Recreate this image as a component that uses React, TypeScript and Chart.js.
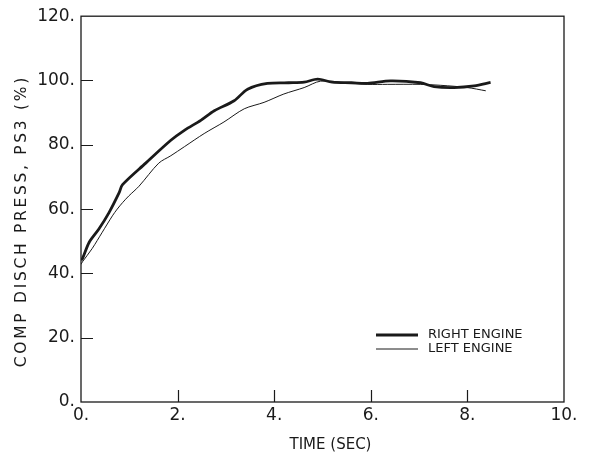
import React, { useEffect, useRef } from "react";
import { Chart, registerables } from "chart.js";

Chart.register(...registerables);

const rightTime = [0, 0.03, 0.17, 0.37, 0.58, 0.79, 0.86, 1.34, 1.86, 2.14, 2.48, 2.76, 3.17, 3.45, 3.86, 4.3, 4.62, 4.9, 5.2, 5.6, 5.93, 6.41, 7.03, 7.31, 7.72, 8.14, 8.48];
const rightValue = [44.2, 44.6, 49.7, 53.8, 58.9, 65.1, 67.6, 74.3, 81.4, 84.5, 87.6, 90.6, 93.7, 97.3, 99.1, 99.3, 99.5, 100.4, 99.5, 99.3, 99.1, 99.9, 99.3, 98.1, 97.8, 98.3, 99.4];

const leftTime = [0, 0.03, 0.23, 0.44, 0.65, 0.75, 0.86, 0.99, 1.2, 1.61, 1.86, 2.14, 2.55, 2.96, 3.38, 3.79, 4.2, 4.62, 4.96, 5.5, 5.93, 6.34, 7.03, 7.45, 8.0, 8.38];
const leftValue = [42.8, 43.6, 47.7, 52.8, 57.9, 60.0, 62.0, 64.1, 67.1, 74.3, 76.6, 79.4, 83.5, 87.1, 91.2, 93.2, 95.8, 97.8, 99.8, 99.3, 98.8, 98.8, 98.8, 98.5, 97.8, 96.8];

const seriesLabels = ["RIGHT ENGINE", "LEFT ENGINE"];
const xTickValues = [0, 2, 4, 6, 8, 10];
const yTickValues = [0, 20, 40, 60, 80, 100, 120];
const xTitle = "TIME (SEC)";
const yTitle = "COMP DISCH PRESS, PS3 (%)";

const INK = "#1a1a1a";
const FONT = "'DejaVu Sans', sans-serif";

const framePlugin = {
  id: "frame",
  afterDraw(chart: any) {
    const { ctx, chartArea, scales } = chart;
    const { left, right, top, bottom } = chartArea;
    ctx.save();
    ctx.strokeStyle = INK;
    ctx.lineWidth = 1.3;
    ctx.strokeRect(left, top, right - left, bottom - top);
    // inward ticks
    ctx.lineWidth = 1.2;
    ctx.beginPath();
    xTickValues.forEach((v) => {
      if (v === 0 || v === 10) return;
      const px = Math.round(scales.x.getPixelForValue(v)) + 0.5;
      ctx.moveTo(px, bottom);
      ctx.lineTo(px, bottom - 12);
    });
    yTickValues.forEach((v) => {
      if (v === 0 || v === 120) return;
      const py = Math.round(scales.y.getPixelForValue(v)) + 0.5;
      ctx.moveTo(left, py);
      ctx.lineTo(left + 12, py);
    });
    ctx.stroke();

    // axis titles
    ctx.fillStyle = INK;
    ctx.textBaseline = "middle";
    ctx.textAlign = "center";
    ctx.font = `15px ${FONT}`;
    ctx.fillText(xTitle, (left + right) / 2 + 8, 445);
    ctx.save();
    ctx.translate(22, (top + bottom) / 2 + 12);
    ctx.rotate(-Math.PI / 2);
    ctx.font = `15.5px ${FONT}`;
    (ctx as any).letterSpacing = "2.7px";
    ctx.fillText(yTitle, 0, 0);
    ctx.restore();

    // legend
    const widths = [2.8, 1];
    const ys = [335, 349];
    ctx.font = `13px ${FONT}`;
    ctx.textAlign = "left";
    seriesLabels.forEach((lab, i) => {
      ctx.beginPath();
      ctx.lineWidth = widths[i];
      ctx.moveTo(376, ys[i]);
      ctx.lineTo(418, ys[i]);
      ctx.stroke();
      ctx.fillText(lab, 428, ys[i]);
    });
    ctx.restore();
  },
};

export default function App() {
  const ref = useRef<HTMLCanvasElement | null>(null);
  useEffect(() => {
    if (!ref.current) return;
    const chart = new Chart(ref.current, {
      type: "line",
      data: {
        datasets: [
          {
            label: seriesLabels[0],
            data: rightTime.map((t, i) => ({ x: t, y: rightValue[i] })),
            borderColor: INK,
            borderWidth: 2.8,
            pointRadius: 0,
            tension: 0.3,
            fill: false,
          },
          {
            label: seriesLabels[1],
            data: leftTime.map((t, i) => ({ x: t, y: leftValue[i] })),
            borderColor: INK,
            borderWidth: 1,
            pointRadius: 0,
            tension: 0.3,
            fill: false,
          },
        ],
      },
      options: {
        responsive: false,
        animation: false,
        layout: { padding: { top: 11, right: 43, left: 0, bottom: 0 } },
        plugins: { legend: { display: false }, tooltip: { enabled: false } },
        scales: {
          x: {
            type: "linear",
            min: 0,
            max: 10,
            afterBuildTicks: (s: any) => {
              s.ticks = xTickValues.map((v) => ({ value: v }));
            },
            afterFit: (s: any) => {
              s.height = 57;
            },
            grid: { display: false, drawTicks: false },
            border: { display: false },
            ticks: {
              color: INK,
              font: { family: FONT, size: 17 },
              padding: 3,
              maxRotation: 0,
              callback: (v: any) => `${v}.`,
            },
            title: { display: false, text: xTitle },
          },
          y: {
            type: "linear",
            min: 0,
            max: 120,
            afterBuildTicks: (s: any) => {
              s.ticks = yTickValues.map((v) => ({ value: v }));
            },
            afterFit: (s: any) => {
              s.width = 81;
            },
            grid: { display: false, drawTicks: false },
            border: { display: false },
            ticks: {
              color: INK,
              font: { family: FONT, size: 17 },
              padding: 6,
              callback: (v: any) => `${v}.`,
            },
            title: { display: false, text: yTitle },
          },
        },
      },
      plugins: [framePlugin],
    });
    return () => chart.destroy();
  }, []);
  return (
    <div style={{ position: "fixed", left: 0, top: 0, width: 607, height: 459, background: "#fff" }}>
      <canvas ref={ref} width={607} height={459} />
    </div>
  );
}
